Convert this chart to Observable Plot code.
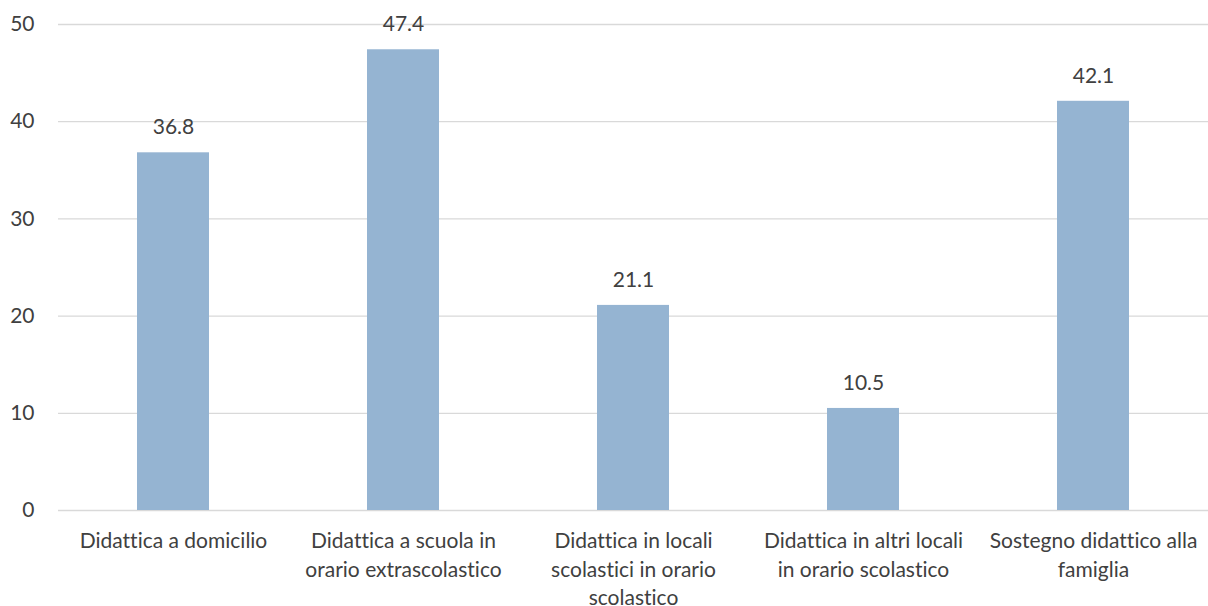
<!DOCTYPE html>
<html>
<head>
<meta charset="utf-8">
<script src="https://cdn.jsdelivr.net/npm/d3@7"></script>
<script src="https://cdn.jsdelivr.net/npm/@observablehq/plot@0.6"></script>
<style>
  html, body { margin: 0; padding: 0; background: #fff; }
  #chart svg { display: block; }
  #chart svg text { font-variant-ligatures: none; }
</style>
</head>
<body>
<div id="chart"></div>
<script>
const categories = [
  "Didattica a domicilio",
  "Didattica a scuola in orario extrascolastico",
  "Didattica in locali scolastici in orario scolastico",
  "Didattica in altri locali in orario scolastico",
  "Sostegno didattico alla famiglia"
];
const tickLabels = [
  "Didattica a domicilio",
  "Didattica a scuola in\norario extrascolastico",
  "Didattica in locali\nscolastici in orario\nscolastico",
  "Didattica in altri locali\nin orario scolastico",
  "Sostegno didattico alla\nfamiglia"
];
const values = [36.8, 47.4, 21.1, 10.5, 42.1];
const yTicks = [0, 10, 20, 30, 40, 50];

const data = categories.map((c, i) => ({category: c, value: values[i]}));
const labelOf = new Map(categories.map((c, i) => [c, tickLabels[i]]));

const font = "Lato, 'Open Sans', sans-serif";
const textColor = "#404040";
const fs = 21;

const chart = Plot.plot({
  width: 1208,
  height: 606,
  marginLeft: 58,
  marginRight: 0,
  marginTop: 24,
  marginBottom: 96,
  style: {fontFamily: font, fontSize: fs + "px", color: textColor, background: "#fff"},
  x: {domain: categories, paddingInner: 0.687, paddingOuter: 0.3435, label: null},
  y: {domain: [0, 50], ticks: yTicks, label: null},
  marks: [
    Plot.gridY(yTicks, {stroke: "#d9d9d9", strokeOpacity: 1, strokeWidth: 1.3}),
    Plot.barY(data, {x: "category", y: "value", fill: "#95b4d2"}),
    Plot.text(data, {x: "category", y: "value", text: d => d.value.toFixed(1), dy: -25.5, fill: textColor, fontSize: fs}),
    Plot.axisY(yTicks, {tickSize: 0, tickPadding: 24, fontSize: fs, fill: textColor, label: null}),
    Plot.axisX({tickSize: 0, tickPadding: 18, fontSize: fs, lineHeight: 1.34, fill: textColor, label: null, tickFormat: d => labelOf.get(d)})
  ]
});
document.getElementById("chart").appendChild(chart);
</script>
</body>
</html>
